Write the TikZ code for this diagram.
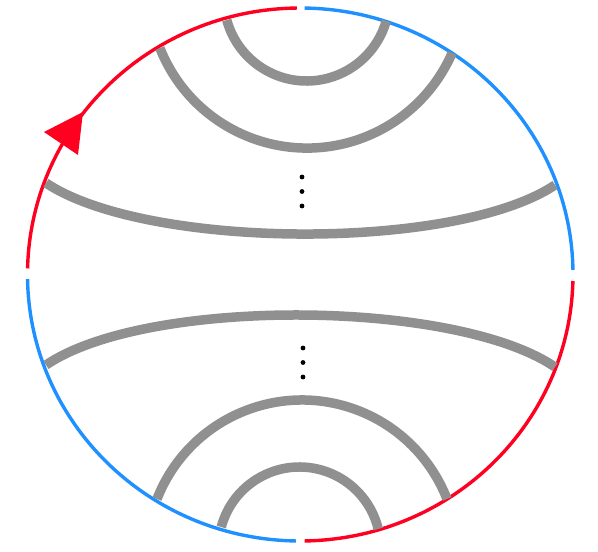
\documentclass[tikz,border=0pt]{standalone}
\usepackage{tikz}
\definecolor{redc}{RGB}{255,0,32}
\definecolor{bluec}{RGB}{30,144,255}
\definecolor{grayc}{RGB}{144,144,144}
\tikzset{
  redarc/.style={draw=redc, line width=3.4pt},
  bluearc/.style={draw=bluec, line width=3.4pt},
  chord/.style={draw=grayc, line width=9.5pt},
  dotmark/.style={fill=black, draw=none}
}
\begin{document}
\begin{tikzpicture}[x=1pt,y=-1pt]
\useasboundingbox (0,0) rectangle (598,552);
\coordinate (c) at (300.25,274.5);
% boundary arcs
\draw[redarc]  (c) ++(181.3:272.75 and 266.5) arc[start angle=181.3, end angle=269.3, x radius=272.75, y radius=266.5];
\draw[bluearc] (c) ++(270.9:272.75 and 266.5) arc[start angle=270.9, end angle=359.0, x radius=272.75, y radius=266.5];
\draw[redarc]  (c) ++(1.4:272.75 and 266.5) arc[start angle=1.4, end angle=89.1, x radius=272.75, y radius=266.5];
\draw[bluearc] (c) ++(90.9:272.75 and 266.5) arc[start angle=90.9, end angle=179.0, x radius=272.75, y radius=266.5];
% arrowhead
\coordinate (tip) at (83,112);
\coordinate (b1) at (44,132);
\coordinate (b2) at (78,155);
\fill[redc] (tip) -- (b1) -- (b2) -- cycle;
% top chords
\coordinate (t1c) at (306.64,-1.8);
\draw[chord] (t1c) ++(164.7:82.8) arc[start angle=164.7, end angle=16.0, radius=82.8];
\coordinate (t2c) at (307.04,-10.2);
\draw[chord] (t2c) ++(158.4:158.25) arc[start angle=158.4, end angle=23.56, radius=158.25];
\coordinate (t3a) at (46,183);
\coordinate (t3b) at (555,185);
\draw[chord] (t3a) .. controls (146,249.7) and (455,251.7) .. (t3b);
% bottom chords
\coordinate (b1a) at (46,365);
\coordinate (b1b) at (555,367);
\draw[chord] (b1a) .. controls (146,297) and (455,299) .. (b1b);
\coordinate (b2c) at (302,555.7);
\draw[chord] (b2c) ++(-158.64:155.7) arc[start angle=-158.64, end angle=-21.36, radius=155.7];
\coordinate (b3c) at (299.5,548);
\draw[chord] (b3c) ++(-165:81) arc[start angle=-165, end angle=-13.6, radius=81];
% dots
\fill[dotmark] (302,177) circle[radius=2.4];
\fill[dotmark] (302,191.5) circle[radius=2.4];
\fill[dotmark] (302,206) circle[radius=2.4];
\fill[dotmark] (303,348) circle[radius=2.4];
\fill[dotmark] (303,362.5) circle[radius=2.4];
\fill[dotmark] (303,377) circle[radius=2.4];
\end{tikzpicture}
\end{document}
